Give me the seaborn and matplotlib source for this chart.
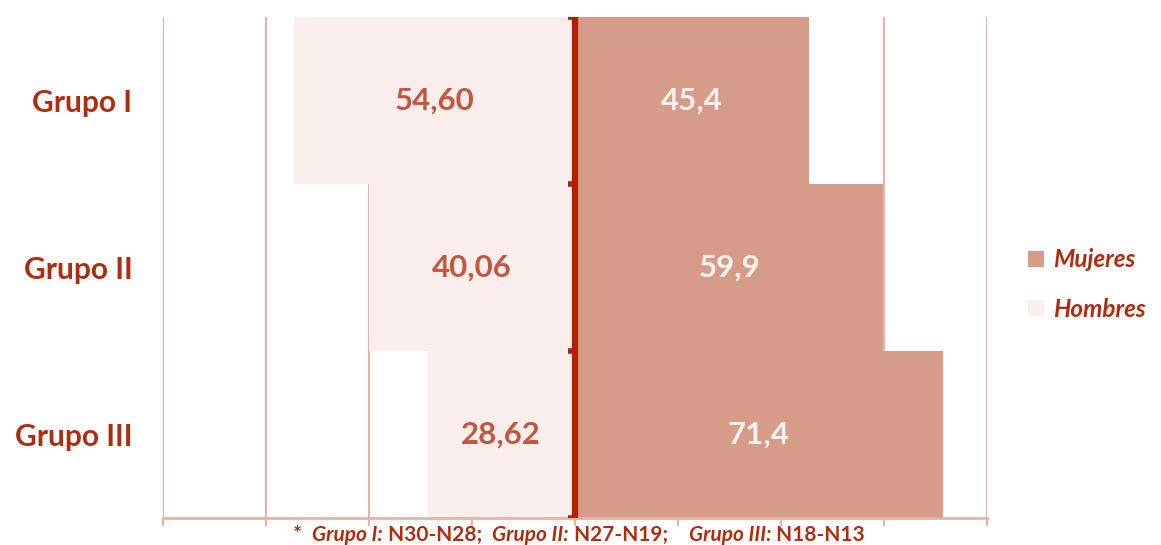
import numpy as np
import pandas as pd
import seaborn as sns
import matplotlib.pyplot as plt

grupos = ["Grupo I", "Grupo II", "Grupo III"]
hombres = [54.60, 40.06, 28.62]
mujeres = [45.4, 59.9, 71.4]
hombres_txt = ["54,60", "40,06", "28,62"]
mujeres_txt = ["45,4", "59,9", "71,4"]

c_muj = "#D79B89"
c_hom = "#F9EEEC"
c_text = "#AE2D0E"
c_grid = "#E6B2A5"
c_axis = "#B22000"

sns.set_theme(style="white")
plt.rcParams["font.family"] = ["Lato", "DejaVu Sans"]

df = pd.DataFrame({"grupo": grupos, "hombres": hombres, "mujeres": mujeres})
df["hombres_neg"] = -df["hombres"]

fig = plt.figure(figsize=(11.61, 5.45), dpi=100)
ax = fig.add_axes([163 / 1161, 1 - 518 / 545, (987 - 163) / 1161, (518 - 17) / 545])

sns.barplot(data=df, x="mujeres", y="grupo", orient="h", color=c_muj,
            width=1.0, saturation=1, linewidth=0, ax=ax, zorder=2, label="Mujeres")
sns.barplot(data=df, x="hombres_neg", y="grupo", orient="h", color=c_hom,
            width=1.0, saturation=1, linewidth=0, ax=ax, zorder=2, label="Hombres")

ax.set_xlim(-80, 80)
ax.set_ylim(2.5, -0.5)
ticks = np.arange(-80, 81, 20)
for t in ticks:
    if t != 0:
        ax.axvline(t, color=c_grid, lw=1.5, zorder=1)
ax.set_xticks(ticks)
ax.set_xticklabels([])
ax.tick_params(axis="x", direction="out", length=6, width=1.5, color=c_grid, bottom=True)

for s in ["top", "right", "left"]:
    ax.spines[s].set_visible(False)
ax.spines["bottom"].set_color(c_grid)
ax.spines["bottom"].set_linewidth(2)

# central axis with boundary ticks
ax.axvline(0, color=c_axis, lw=4.5, zorder=4)
ax.hlines(np.arange(-0.5, 3, 1), -1.3, 0, color=c_axis, lw=4, zorder=4)

ax.set_xlabel("")
ax.set_ylabel("")
ax.tick_params(axis="y", length=0, pad=22)
for lbl in ax.get_yticklabels():
    lbl.set_fontsize(21.5)
    lbl.set_fontweight("bold")
    lbl.set_color(c_text)

for i in range(len(grupos)):
    ax.text(-hombres[i] / 2, i, hombres_txt[i], ha="center", va="center",
            fontsize=22.5, fontweight="bold", color="#C4563E", zorder=5)
    ax.text(mujeres[i] / 2, i, mujeres_txt[i], ha="center", va="center",
            fontsize=22.5, fontweight="bold", color="#FCF1EC", zorder=5)

leg = ax.legend(loc="center left", bbox_to_anchor=(1.038, 0.466), frameon=False,
                handlelength=0.65, handleheight=0.65, handletextpad=0.4,
                labelspacing=1.1, borderaxespad=0, fontsize=17.5)
for t in leg.get_texts():
    t.set_fontstyle("italic")
    t.set_fontweight("bold")
    t.set_color(c_text)

# footnote
fs = 15
parts = [("*  ", "normal"), ("Grupo I:", "italic"), (" N30-N28;  ", "normal"),
         ("Grupo II:", "italic"), (" N27-N19;    ", "normal"),
         ("Grupo III:", "italic"), (" N18-N13", "normal")]
prev = fig.text(293 / 1161, 1 - 535 / 545, parts[0][0], fontsize=fs,
                fontweight="bold", color=c_text, va="center", ha="left")
for txt, style in parts[1:]:
    prev = ax.annotate(txt, xy=(1, 0.5), xycoords=prev, va="center", ha="left",
                       fontsize=fs, fontweight="bold", fontstyle=style,
                       color=c_text, annotation_clip=False)

fig.savefig("out.png", dpi=100)
